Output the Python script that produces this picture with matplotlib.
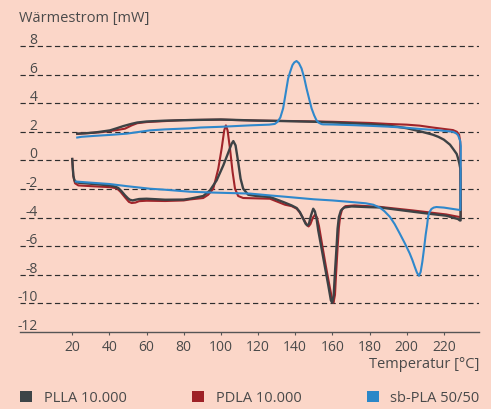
import matplotlib

matplotlib.use('Agg')

import matplotlib.pyplot as plt
from matplotlib.patches import Patch
from matplotlib.transforms import ScaledTranslation

plt.rcParams['font.family'] = ['Open Sans', 'DejaVu Sans']
plt.rcParams['lines.scale_dashes'] = False

# DSC curves: heating branch (left to right),
# then cooling branch (right to left) so the loop is drawn in one line
plla_heat_t = [20.0, 20.3, 20.6, 21.0, 21.5, 23.3, 27.0, 31.4, 36.0, 40.3, 43.0, 44.8,
               46.5, 48.4, 50.0, 51.0, 52.5, 53.8, 56.0, 60.0, 70.0, 80.0, 83.3, 90.5,
               94.1, 97.7, 101.3, 103.4, 105.8, 106.7, 107.9, 109.3, 110.6, 112.0, 114.7,
               119.2, 126.4, 133.6, 138.1, 140.8, 142.5, 144.3, 145.6, 146.5, 147.4, 148.5,
               149.7, 150.6, 151.5, 152.4, 154.2, 156.0, 157.8, 159.2, 159.9, 160.7, 161.4,
               162.3, 162.8, 163.5, 164.6, 166.4, 170.3, 180.0, 185.5, 195.0, 203.4, 212.0,
               221.3, 227.6, 228.6]
plla_heat_q = [0.1, -0.5, -1.05, -1.3, -1.47, -1.56, -1.6, -1.65, -1.7, -1.75, -1.83, -1.93,
               -2.15, -2.44, -2.65, -2.75, -2.8, -2.76, -2.7, -2.68, -2.75, -2.74, -2.68, -2.49,
               -2.1, -1.4, -0.35, 0.35, 1.17, 1.35, 1.05, -0.11, -1.28, -1.98, -2.4,
               -2.49, -2.56, -2.91, -3.15, -3.33, -3.61, -4.08, -4.43, -4.55, -4.43, -3.85,
               -3.38, -3.57, -4.08, -4.9, -6.17, -7.46, -8.74, -9.79, -9.95, -9.44, -7.8,
               -5.94, -4.78, -3.96, -3.5, -3.29, -3.22, -3.27, -3.29, -3.45, -3.59, -3.73,
               -3.87, -4.1, -4.2]
plla_cool_t = [229.0, 228.9, 228.3, 227.5, 226.9, 225.0, 223.3, 220.0, 217.0, 214.0, 207.0,
               200.0, 195.0, 187.0, 170.0, 151.0, 130.0, 115.6, 100.0, 83.0, 70.0, 60.0,
               55.0, 52.0, 47.5, 44.0, 40.3, 35.0, 31.4, 27.0, 22.7]
plla_cool_q = [-4.2, -0.6, -0.2, 0.2, 0.45, 0.8, 1.1, 1.45, 1.65, 1.8, 2.04,
               2.25, 2.35, 2.47, 2.6, 2.7, 2.76, 2.8, 2.86, 2.82, 2.78, 2.72,
               2.65, 2.56, 2.4, 2.25, 2.1, 2.0, 1.94, 1.9, 1.87]

pdla_heat_t = [20.0, 20.6, 21.5, 23.3, 30.0, 40.3, 44.0, 46.0, 48.5, 50.5, 52.0, 54.0,
               56.0, 60.0, 70.0, 80.0, 83.3, 90.5, 93.2, 95.9, 98.6, 100.4, 101.8, 102.7,
               103.6, 104.9, 106.3, 107.6, 109.3, 112.0, 126.4, 134.5, 138.1, 140.8, 142.5,
               144.5, 146.2, 147.2, 148.2, 149.5, 150.8, 151.7, 152.8, 154.5, 156.5, 158.5,
               160.0, 160.6, 161.4, 162.0, 162.9, 163.5, 164.2, 165.3, 167.0, 172.0, 185.5,
               203.4, 221.3, 227.6, 228.9]
pdla_heat_q = [0.1, -1.1, -1.6, -1.75, -1.8, -1.87, -1.95, -2.2, -2.6, -2.9, -2.98, -2.95,
               -2.85, -2.82, -2.84, -2.8, -2.73, -2.63, -2.4, -1.98, -0.58, 0.82, 2.1, 2.45,
               2.1, 0.82, -0.81, -1.98, -2.49, -2.63, -2.68, -3.1, -3.2, -3.38, -3.65,
               -4.1, -4.5, -4.62, -4.45, -4.0, -3.78, -4.0, -4.6, -5.9, -7.4, -8.8,
               -9.8, -9.95, -9.4, -7.9, -5.9, -4.7, -3.9, -3.4, -3.2, -3.15, -3.25,
               -3.5, -3.78, -3.94, -3.96]
pdla_cool_t = [229.1, 228.8, 228.2, 227.0, 224.9, 220.0, 214.0, 207.0, 200.0, 190.0, 180.0,
               160.0, 140.0, 120.0, 100.0, 80.0, 60.0, 55.0, 52.0, 48.4, 44.0, 40.0,
               35.0, 30.0, 25.0, 22.7]
pdla_cool_q = [-3.96, 1.3, 1.8, 2.0, 2.12, 2.2, 2.3, 2.43, 2.5, 2.55, 2.62,
               2.7, 2.75, 2.78, 2.85, 2.82, 2.68, 2.6, 2.45, 2.22, 2.12, 2.05,
               1.97, 1.92, 1.88, 1.85]

sbpla_heat_t = [22.0, 31.4, 40.0, 49.3, 61.8, 70.0, 83.3, 96.0, 115.6, 126.4, 134.5, 150.0,
                160.0, 172.0, 178.0, 182.0, 185.5, 188.0, 190.9, 193.5, 196.2, 199.0, 201.6,
                203.0, 204.3, 205.5, 206.6, 207.5, 208.4, 209.3, 210.2, 211.0, 211.5, 212.3,
                213.3, 214.5, 216.0, 220.0, 224.0, 227.6, 228.9]
sbpla_heat_q = [-1.48, -1.57, -1.65, -1.8, -1.98, -2.05, -2.19, -2.25, -2.32, -2.45, -2.54, -2.72,
                -2.8, -2.93, -3.0, -3.1, -3.3, -3.55, -3.94, -4.45, -5.1, -5.8, -6.5,
                -6.95, -7.43, -7.85, -8.07, -7.8, -7.1, -6.2, -5.2, -4.5, -3.94, -3.6,
                -3.4, -3.3, -3.26, -3.3, -3.38, -3.45, -3.47]
sbpla_cool_t = [229.1, 228.7, 227.6, 226.5, 224.9, 217.7, 207.0, 200.0, 190.0, 180.0, 170.0,
                160.0, 155.0, 154.1, 152.5, 151.4, 150.2, 148.8, 147.5, 146.1, 144.8, 143.4,
                142.0, 140.7, 139.5, 138.5, 137.3, 136.2, 135.0, 133.5, 132.0, 130.5, 129.0,
                126.0, 115.6, 100.0, 89.0, 83.0, 70.0, 61.8, 49.3, 40.0, 31.4, 25.0, 22.7]
sbpla_cool_q = [1.0, 1.4, 1.77, 1.9, 2.0, 2.1, 2.2, 2.28, 2.36, 2.42, 2.47,
                2.51, 2.52, 2.54, 2.65, 2.82, 3.15, 3.64, 4.3, 5.03, 5.8, 6.43,
                6.8, 6.95, 6.85, 6.66, 6.2, 5.73, 4.8, 3.64, 3.0, 2.7, 2.55,
                2.5, 2.45, 2.35, 2.3, 2.24, 2.17, 2.1, 1.87, 1.78, 1.71, 1.65, 1.6]

series_names = ['PLLA 10.000', 'PDLA 10.000', 'sb-PLA 50/50']
line_colors = ['#3d4245', '#a0242a', '#2f88cc']
box_colors = ['#3e4548', '#9e2126', '#2b87c8']

x_ticks = [20, 40, 60, 80, 100, 120, 140, 160, 180, 200, 220]
y_ticks = [-12, -10, -8, -6, -4, -2, 0, 2, 4, 6, 8]

bg = '#fbd6c8'
txt = '#4a4a4a'

fig = plt.figure(figsize=(4.91, 4.10), dpi=100, facecolor=bg)
ax = fig.add_axes([20 / 491, 77 / 410, 459 / 491, 300.3 / 410])
ax.set_facecolor(bg)

curves = [
    (plla_heat_t + plla_cool_t, plla_heat_q + plla_cool_q),
    (pdla_heat_t + pdla_cool_t, pdla_heat_q + pdla_cool_q),
    (sbpla_heat_t + sbpla_cool_t, sbpla_heat_q + sbpla_cool_q),
]
z_order = [3, 2, 4]
widths = [1.7, 1.5, 1.5]
for (t, q), c, z, w in zip(curves, line_colors, z_order, widths):
    ax.plot(t, q, color=c, lw=w, zorder=z, solid_joinstyle='round')

ax.set_xlim(-8.1, 238.9)
ax.set_ylim(-12, 9)

# dashed horizontal grid at every y tick above the axis line
for v in y_ticks[1:]:
    ax.axhline(v, color='#2e2e2e', lw=0.85, linestyle=(0, (3.8, 2.4)), zorder=1)

for s in ['top', 'right', 'left']:
    ax.spines[s].set_visible(False)
ax.spines['bottom'].set_color('#555555')
ax.spines['bottom'].set_linewidth(1.0)

ax.set_xticks(x_ticks)
ax.set_xticklabels([str(v) for v in x_ticks])
ax.tick_params(axis='x', direction='out', length=2.2, width=0.8, color='#555555',
               pad=3, labelsize=10, labelcolor=txt)

ax.set_yticks(y_ticks)
ax.set_yticklabels([str(v) for v in y_ticks])
ax.tick_params(axis='y', length=0, pad=0, labelsize=10, labelcolor=txt)
shift = ScaledTranslation(0.175, 0.065, fig.dpi_scale_trans)
for lbl in ax.get_yticklabels():
    lbl.set_va('center')
    lbl.set_transform(lbl.get_transform() + shift)

ax.set_xlabel('Temperatur [°C]', loc='right', fontsize=10.5, color=txt, labelpad=1.5)
fig.text(19 / 491, 1 - 18.5 / 410, 'Wärmestrom [mW]', fontsize=10.5, color=txt,
         ha='left', va='center')

handles = [Patch(facecolor=c, edgecolor='none') for c in box_colors]
leg = fig.legend(handles, series_names, ncol=3, mode='expand', loc='center',
                 bbox_to_anchor=(20 / 491, 1 - 399 / 410, 459.5 / 491, 0),
                 frameon=False, borderpad=0, borderaxespad=0, fontsize=10.5,
                 handlelength=0.82, handleheight=0.82, handletextpad=0.8)
for t in leg.get_texts():
    t.set_color(txt)

plt.savefig('out.png', dpi=100, facecolor=bg)
plt.close(fig)
